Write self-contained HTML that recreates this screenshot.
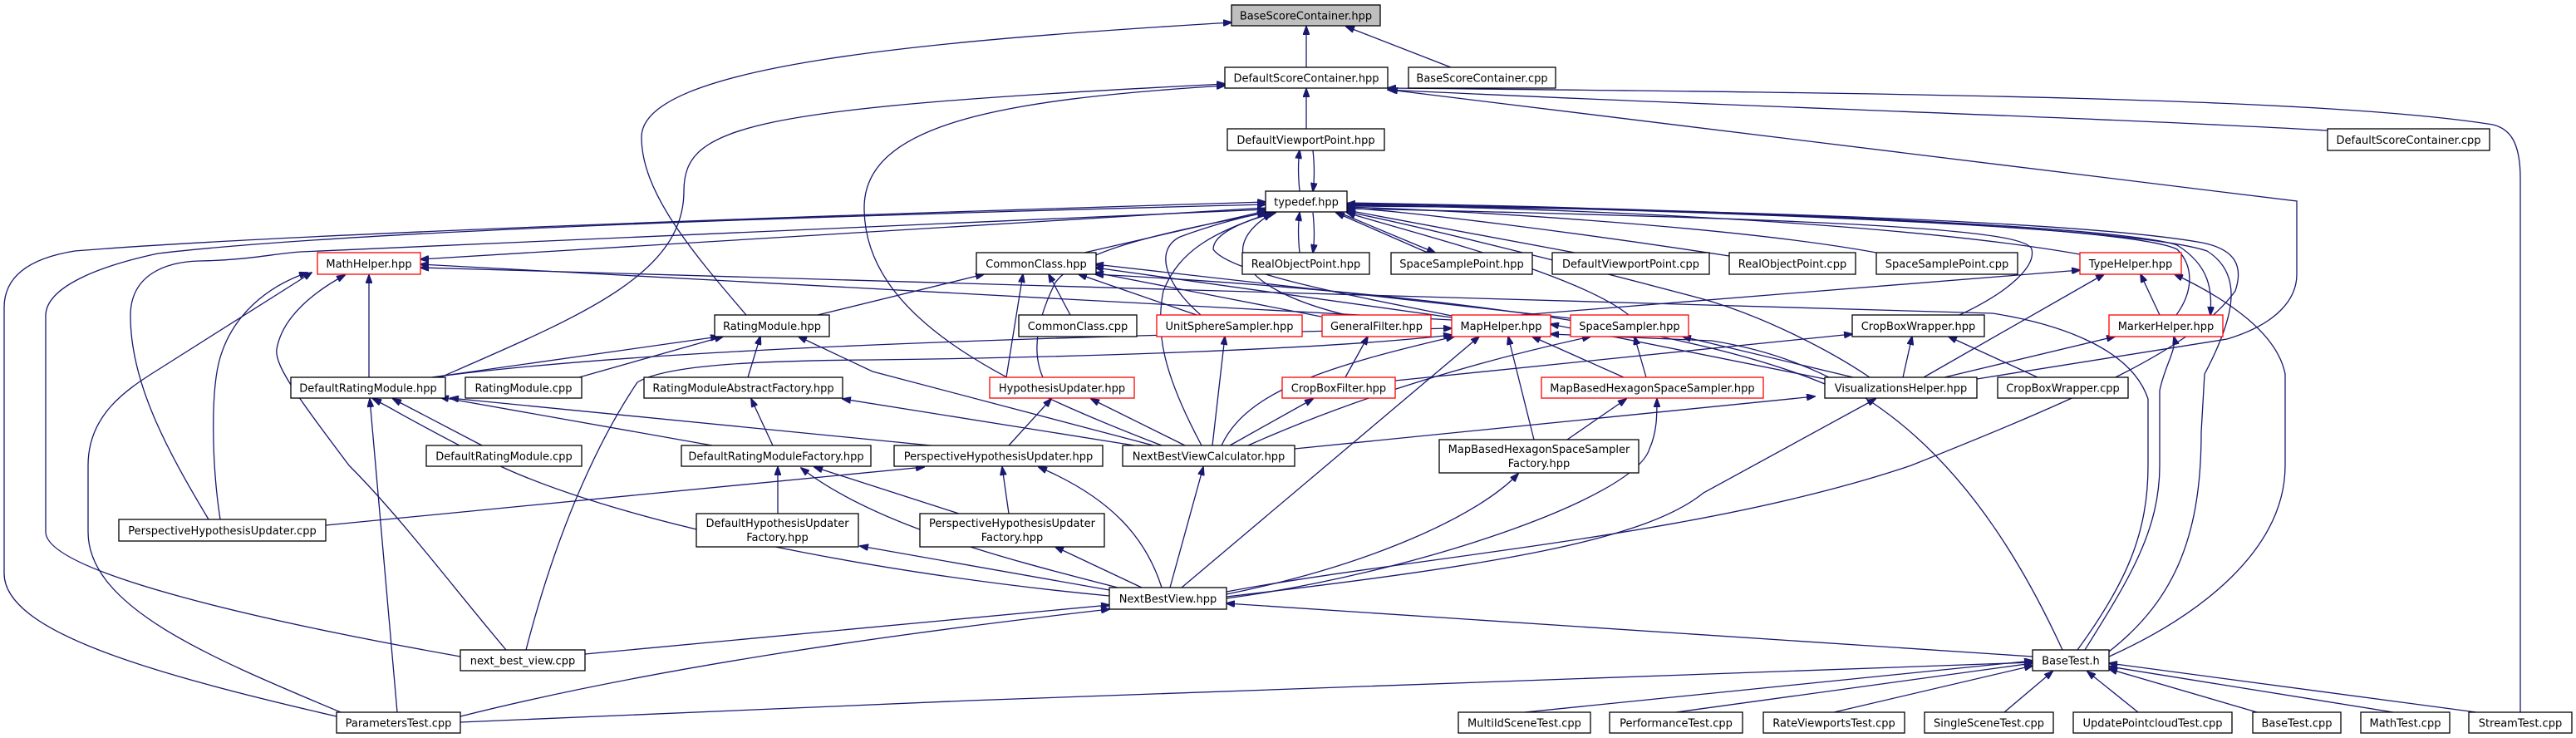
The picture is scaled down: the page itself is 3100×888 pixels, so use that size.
<!DOCTYPE html>
<html><head><meta charset="utf-8"><style>
html,body{margin:0;padding:0;background:#fff;}
svg{display:block;}
text{font-family:"DejaVu Sans","Liberation Sans",sans-serif;font-size:13px;fill:#000;}
.e{fill:none;stroke:#191970;stroke-width:1.3;marker-end:url(#a);}
.n{fill:#fff;stroke:#000;stroke-width:1.3;}
.r{fill:#fff;stroke:#ff0000;stroke-width:1.3;}
</style></head><body>
<svg width="3100" height="888" viewBox="0 0 3100 888" xmlns="http://www.w3.org/2000/svg">
<defs><marker id="a" markerWidth="11" markerHeight="8" refX="10" refY="4" orient="auto" markerUnits="userSpaceOnUse"><polygon points="0,0 11,4 0,8" fill="#191970" stroke="#191970"/></marker></defs>
<g>
<path class="e" d="M1572,81 L1572,32"/>
<path class="e" d="M1746,81 L1620,32"/>
<path class="e" d="M898,379 C830,300 772,230 772,165 C772,80 1100,50 1482,27"/>
<path class="e" d="M1572,155 L1572,107"/>
<path class="e" d="M530,454 C700,380 823,330 823,230 C823,150 900,130 1474,101"/>
<path class="e" d="M1398,536 C1200,460 1040,380 1040,250 C1040,150 1200,120 1474,103"/>
<path class="e" d="M2801,157 C2500,140 2000,125 1670,108"/>
<path class="e" d="M3033,857 L3033,215 C3033,170 3020,155 3000,150 C2800,118 2300,112 1670,106"/>
<path class="e" d="M2379,456 L2680,408 C2740,390 2764,360 2764,330 L2764,242 L1672,108"/>
<path class="e" d="M1564,230 C1562,210 1562,195 1564,181"/>
<path class="e" d="M1580,181 C1582,200 1582,215 1580,230"/>
<path class="e" d="M1564,304 C1562,285 1562,270 1564,256"/>
<path class="e" d="M1580,256 C1582,275 1582,290 1580,304"/>
<path class="e" d="M1718,304 L1608,256"/>
<path class="e" d="M1612,256 L1727,304"/>
<path class="e" d="M1895,304 L1621,253"/>
<path class="e" d="M2081,308 C1900,280 1700,255 1621,250"/>
<path class="e" d="M2258,304 C2100,275 1800,255 1621,249"/>
<path class="e" d="M2503,306 C2300,270 1900,250 1621,247"/>
<path class="e" d="M2619,379 C2640,350 2640,320 2620,300 C2560,270 2000,250 1621,246"/>
<path class="e" d="M1621,244 C2000,250 2550,270 2620,295 C2660,320 2662,350 2660,379"/>
<path class="e" d="M2358,379 C2420,350 2450,320 2445,300 C2440,280 2300,265 1621,251"/>
<path class="e" d="M2538,784 C2620,720 2649,640 2649,520 L2653,450 C2690,380 2700,330 2656,302 C2560,270 2000,252 1621,245"/>
<path class="e" d="M2538,790 C2650,740 2750,660 2750,560 L2750,450 C2740,400 2680,360 2617,330"/>
<path class="e" d="M2509,782 C2560,700 2599,640 2599,560 L2599,470 C2605,440 2620,420 2616,405"/>
<path class="e" d="M2482,782 C2380,560 2250,440 2060,410 L1866,402"/>
<path class="e" d="M2500,782 C2560,700 2585,640 2585,560 L2585,480 C2565,420 2480,390 2398,377 L506,322"/>
<path class="e" d="M1523,250 L506,312"/>
<path class="e" d="M1476,712 C1700,670 2050,645 2300,560 C2500,480 2640,420 2690,350 C2700,320 2690,300 2650,292 C2500,265 2000,250 1621,248"/>
<path class="e" d="M405,862 C180,810 5,760 5,690 L5,370 C5,330 40,310 90,302 C300,285 800,265 1523,243"/>
<path class="e" d="M554,790 C330,750 55,690 55,640 L55,380 C55,345 120,320 190,305 C400,280 900,262 1523,246"/>
<path class="e" d="M251,625 C200,540 157,460 157,380 C157,330 200,315 240,314 C300,313 330,305 362,303 L1523,252"/>
<path class="e" d="M410,857 C250,790 106,730 106,640 L106,560 C106,500 150,470 190,445 L375,328"/>
<path class="e" d="M265,625 C255,560 253,470 265,430 C280,380 320,345 370,328"/>
<path class="e" d="M609,782 C540,700 480,620 420,560 C360,480 330,440 333,420 C340,380 380,350 415,331"/>
<path class="e" d="M444,454 L444,331"/>
<path class="e" d="M478,857 L445,480"/>
<path class="e" d="M1335,717 C1050,690 750,630 600,560 C500,510 470,490 449,480"/>
<path class="e" d="M554,862 C800,800 1100,760 1335,733"/>
<path class="e" d="M704,787 L1335,728"/>
<path class="e" d="M554,869 C1200,840 2000,810 2446,797"/>
<path class="e" d="M2446,790 L1476,726"/>
<path class="e" d="M633,782 C680,600 740,500 767,460 C800,440 900,434 1050,433 C1300,430 1600,420 1747,403"/>
<path class="e" d="M520,454 C700,430 1000,410 1747,395"/>
<path class="e" d="M520,454 L865,405"/>
<path class="e" d="M697,454 L870,405"/>
<path class="e" d="M984,379 L1184,330"/>
<path class="e" d="M900,454 L915,405"/>
<path class="e" d="M1388,536 L1050,447 L961,405"/>
<path class="e" d="M1365,536 L1014,480"/>
<path class="e" d="M930,536 L904,480"/>
<path class="e" d="M857,536 L530,478"/>
<path class="e" d="M580,536 L473,480"/>
<path class="e" d="M1120,536 L542,479"/>
<path class="e" d="M936,618 L936,562"/>
<path class="e" d="M1154,618 L980,562"/>
<path class="e" d="M1345,707 C1200,670 1050,630 964,563"/>
<path class="e" d="M1335,710 L1035,657"/>
<path class="e" d="M1374,707 L1270,658"/>
<path class="e" d="M392,632 L1112,562"/>
<path class="e" d="M1214,618 L1206,562"/>
<path class="e" d="M1398,707 C1380,650 1340,600 1250,562"/>
<path class="e" d="M1214,536 L1265,480"/>
<path class="e" d="M1426,536 L1313,480"/>
<path class="e" d="M1408,707 L1448,562"/>
<path class="e" d="M1480,536 L1580,480"/>
<path class="e" d="M1459,536 L1474,405"/>
<path class="e" d="M1446,536 C1400,450 1390,400 1400,350 C1420,300 1460,280 1530,256"/>
<path class="e" d="M1502,536 C1650,470 1800,430 1914,405"/>
<path class="e" d="M1558,540 L2184,477"/>
<path class="e" d="M1470,536 C1500,470 1600,440 1750,405"/>
<path class="e" d="M1255,454 C1240,420 1250,380 1270,340 C1300,300 1400,280 1523,256"/>
<path class="e" d="M1211,454 L1231,330"/>
<path class="e" d="M1445,379 C1400,340 1390,300 1420,285 C1460,270 1500,260 1527,255"/>
<path class="e" d="M1440,379 L1298,330"/>
<path class="e" d="M1288,379 L1262,330"/>
<path class="e" d="M1305,304 L1527,253"/>
<path class="e" d="M1590,381 L1318,328"/>
<path class="e" d="M1620,379 C1500,350 1460,300 1530,257"/>
<path class="e" d="M1619,454 L1646,405"/>
<path class="e" d="M1679,458 L2229,402"/>
<path class="e" d="M1747,380 C1650,360 1480,330 1460,300 C1460,280 1500,265 1535,256"/>
<path class="e" d="M1747,382 L1318,322"/>
<path class="e" d="M1830,379 L2503,325"/>
<path class="e" d="M1747,385 L506,318"/>
<path class="e" d="M1954,454 L1844,405"/>
<path class="e" d="M1981,454 L1967,405"/>
<path class="e" d="M1886,529 L1957,480"/>
<path class="e" d="M1846,529 L1815,405"/>
<path class="e" d="M1476,715 C1650,680 1780,620 1827,570"/>
<path class="e" d="M1476,720 C1700,690 1967,600 1985,540 C1994,520 1994,500 1994,480"/>
<path class="e" d="M1422,707 L1780,405"/>
<path class="e" d="M1476,718 C1800,680 1980,650 2050,593 L2257,480"/>
<path class="e" d="M2290,454 L2301,405"/>
<path class="e" d="M2315,454 L2532,330"/>
<path class="e" d="M2340,454 L2545,405"/>
<path class="e" d="M2230,454 L2025,405"/>
<path class="e" d="M2196,456 L1866,390"/>
<path class="e" d="M2250,454 C2200,420 2120,380 2050,360 C1900,320 1700,270 1621,255"/>
<path class="e" d="M2196,462 C2000,380 1600,345 1318,330"/>
<path class="e" d="M1960,379 C1900,330 1700,280 1621,256"/>
<path class="e" d="M1890,383 L1318,318"/>
<path class="e" d="M2452,454 L2345,405"/>
<path class="e" d="M2599,379 L2576,330"/>
<path class="e" d="M1835,857 L2446,795"/>
<path class="e" d="M2017,857 L2446,798"/>
<path class="e" d="M2207,857 L2446,801"/>
<path class="e" d="M2412,857 L2470,808"/>
<path class="e" d="M2573,857 L2512,808"/>
<path class="e" d="M2716,857 L2538,805"/>
<path class="e" d="M2880,857 L2538,802"/>
<path class="e" d="M2980,857 L2538,798"/>
</g>
<g>
<rect x="1482" y="6" width="179" height="25" fill="#bfbfbf" stroke="#000" stroke-width="1.3"/><text x="1571.5" y="23.5" text-anchor="middle">BaseScoreContainer.hpp</text>
<rect class="n" x="1474" y="81" width="196" height="25"/><text x="1572" y="98.5" text-anchor="middle">DefaultScoreContainer.hpp</text>
<rect class="n" x="1695" y="81" width="177" height="25"/><text x="1783.5" y="98.5" text-anchor="middle">BaseScoreContainer.cpp</text>
<rect class="n" x="1477" y="155" width="189" height="26"/><text x="1571.5" y="173" text-anchor="middle">DefaultViewportPoint.hpp</text>
<rect class="n" x="2801" y="155" width="195" height="26"/><text x="2898.5" y="173" text-anchor="middle">DefaultScoreContainer.cpp</text>
<rect class="n" x="1523" y="230" width="98" height="25"/><text x="1572" y="247.5" text-anchor="middle">typedef.hpp</text>
<rect class="r" x="382" y="304" width="124" height="26"/><text x="444" y="322" text-anchor="middle">MathHelper.hpp</text>
<rect class="n" x="1175" y="304" width="144" height="26"/><text x="1247" y="322" text-anchor="middle">CommonClass.hpp</text>
<rect class="n" x="1495" y="304" width="153" height="26"/><text x="1571.5" y="322" text-anchor="middle">RealObjectPoint.hpp</text>
<rect class="n" x="1674" y="304" width="170" height="26"/><text x="1759" y="322" text-anchor="middle">SpaceSamplePoint.hpp</text>
<rect class="n" x="1868" y="304" width="189" height="26"/><text x="1962.5" y="322" text-anchor="middle">DefaultViewportPoint.cpp</text>
<rect class="n" x="2081" y="304" width="152" height="26"/><text x="2157" y="322" text-anchor="middle">RealObjectPoint.cpp</text>
<rect class="n" x="2258" y="304" width="170" height="26"/><text x="2343" y="322" text-anchor="middle">SpaceSamplePoint.cpp</text>
<rect class="r" x="2503" y="304" width="122" height="26"/><text x="2564" y="322" text-anchor="middle">TypeHelper.hpp</text>
<rect class="n" x="860" y="379" width="138" height="26"/><text x="929" y="397" text-anchor="middle">RatingModule.hpp</text>
<rect class="n" x="1226" y="379" width="142" height="26"/><text x="1297" y="397" text-anchor="middle">CommonClass.cpp</text>
<rect class="r" x="1392" y="379" width="175" height="26"/><text x="1479.5" y="397" text-anchor="middle">UnitSphereSampler.hpp</text>
<rect class="r" x="1591" y="379" width="131" height="26"/><text x="1656.5" y="397" text-anchor="middle">GeneralFilter.hpp</text>
<rect class="r" x="1747" y="379" width="119" height="26"/><text x="1806.5" y="397" text-anchor="middle">MapHelper.hpp</text>
<rect class="r" x="1890" y="379" width="142" height="26"/><text x="1961" y="397" text-anchor="middle">SpaceSampler.hpp</text>
<rect class="n" x="2229" y="379" width="159" height="26"/><text x="2308.5" y="397" text-anchor="middle">CropBoxWrapper.hpp</text>
<rect class="r" x="2538" y="379" width="137" height="26"/><text x="2606.5" y="397" text-anchor="middle">MarkerHelper.hpp</text>
<rect class="n" x="350" y="454" width="186" height="25"/><text x="443" y="471.5" text-anchor="middle">DefaultRatingModule.hpp</text>
<rect class="n" x="560" y="454" width="140" height="25"/><text x="630" y="471.5" text-anchor="middle">RatingModule.cpp</text>
<rect class="n" x="775" y="454" width="239" height="25"/><text x="894.5" y="471.5" text-anchor="middle">RatingModuleAbstractFactory.hpp</text>
<rect class="r" x="1191" y="454" width="174" height="25"/><text x="1278" y="471.5" text-anchor="middle">HypothesisUpdater.hpp</text>
<rect class="r" x="1543" y="454" width="136" height="25"/><text x="1611" y="471.5" text-anchor="middle">CropBoxFilter.hpp</text>
<rect class="r" x="1855" y="454" width="267" height="25"/><text x="1988.5" y="471.5" text-anchor="middle">MapBasedHexagonSpaceSampler.hpp</text>
<rect class="n" x="2196" y="454" width="183" height="25"/><text x="2287.5" y="471.5" text-anchor="middle">VisualizationsHelper.hpp</text>
<rect class="n" x="2404" y="454" width="157" height="25"/><text x="2482.5" y="471.5" text-anchor="middle">CropBoxWrapper.cpp</text>
<rect class="n" x="513" y="536" width="187" height="25"/><text x="606.5" y="553.5" text-anchor="middle">DefaultRatingModule.cpp</text>
<rect class="n" x="820" y="536" width="228" height="25"/><text x="934" y="553.5" text-anchor="middle">DefaultRatingModuleFactory.hpp</text>
<rect class="n" x="1076" y="536" width="251" height="25"/><text x="1201.5" y="553.5" text-anchor="middle">PerspectiveHypothesisUpdater.hpp</text>
<rect class="n" x="1351" y="536" width="207" height="25"/><text x="1454.5" y="553.5" text-anchor="middle">NextBestViewCalculator.hpp</text>
<rect class="n" x="1732" y="529" width="240" height="40"/><text x="1852" y="545" text-anchor="middle">MapBasedHexagonSpaceSampler</text><text x="1852" y="562" text-anchor="middle">Factory.hpp</text>
<rect class="n" x="143" y="625" width="249" height="26"/><text x="267.5" y="643" text-anchor="middle">PerspectiveHypothesisUpdater.cpp</text>
<rect class="n" x="838" y="618" width="195" height="40"/><text x="935.5" y="634" text-anchor="middle">DefaultHypothesisUpdater</text><text x="935.5" y="651" text-anchor="middle">Factory.hpp</text>
<rect class="n" x="1107" y="618" width="222" height="40"/><text x="1218" y="634" text-anchor="middle">PerspectiveHypothesisUpdater</text><text x="1218" y="651" text-anchor="middle">Factory.hpp</text>
<rect class="n" x="1335" y="707" width="141" height="26"/><text x="1405.5" y="725" text-anchor="middle">NextBestView.hpp</text>
<rect class="n" x="554" y="782" width="150" height="25"/><text x="629" y="799.5" text-anchor="middle">next_best_view.cpp</text>
<rect class="n" x="2446" y="782" width="92" height="25"/><text x="2492" y="799.5" text-anchor="middle">BaseTest.h</text>
<rect class="n" x="405" y="857" width="149" height="25"/><text x="479.5" y="874.5" text-anchor="middle">ParametersTest.cpp</text>
<rect class="n" x="1755" y="857" width="159" height="25"/><text x="1834.5" y="874.5" text-anchor="middle">MultiIdSceneTest.cpp</text>
<rect class="n" x="1937" y="857" width="160" height="25"/><text x="2017" y="874.5" text-anchor="middle">PerformanceTest.cpp</text>
<rect class="n" x="2122" y="857" width="170" height="25"/><text x="2207" y="874.5" text-anchor="middle">RateViewportsTest.cpp</text>
<rect class="n" x="2316" y="857" width="155" height="25"/><text x="2393.5" y="874.5" text-anchor="middle">SingleSceneTest.cpp</text>
<rect class="n" x="2495" y="857" width="191" height="25"/><text x="2590.5" y="874.5" text-anchor="middle">UpdatePointcloudTest.cpp</text>
<rect class="n" x="2711" y="857" width="106" height="25"/><text x="2764" y="874.5" text-anchor="middle">BaseTest.cpp</text>
<rect class="n" x="2841" y="857" width="107" height="25"/><text x="2894.5" y="874.5" text-anchor="middle">MathTest.cpp</text>
<rect class="n" x="2971" y="857" width="124" height="25"/><text x="3033" y="874.5" text-anchor="middle">StreamTest.cpp</text>
</g>
</svg>
</body></html>
